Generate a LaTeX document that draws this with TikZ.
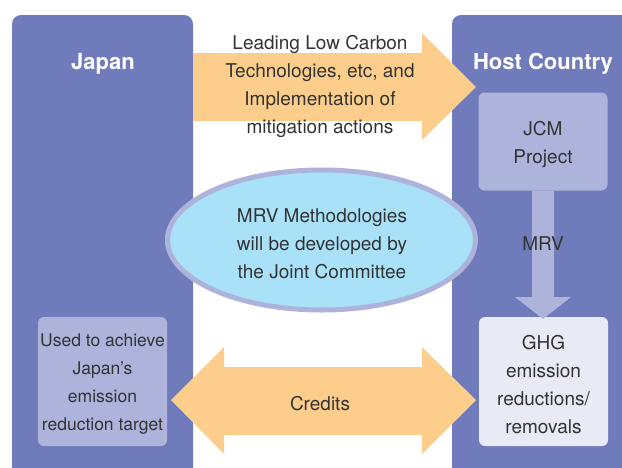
\documentclass[tikz,border=0pt]{standalone}
\usepackage{fontspec}
\setmainfont{TeX Gyre Heros}
\definecolor{panel}{HTML}{6F7BBB}
\definecolor{lightbox}{HTML}{ADB3DB}
\definecolor{palebox}{HTML}{E8EAF6}
\definecolor{orangefill}{HTML}{FDCD8C}
\definecolor{skyfill}{HTML}{A9E1F8}
\definecolor{txt}{HTML}{333333}
\begin{document}
\begin{tikzpicture}[x=1pt,y=-1pt,
  panelbox/.style={fill=panel,rounded corners=9pt},
  title/.style={text=white,font=\fontsize{22}{26}\selectfont\bfseries},
  body/.style={text=txt,font=\fontsize{19}{28}\selectfont,align=center},
  innerbox/.style={rounded corners=6pt,minimum width=129pt,minimum height=98pt,inner sep=0pt,draw=none},
  fatarrow/.style={fill=orangefill}]
\useasboundingbox (0,0) rectangle (622,467);
\fill[white] (0,0) rectangle (622,467);
% panels
\fill[panelbox] (12,15) rectangle (193,480);
\fill[panelbox] (452,15) rectangle (640,480);
\node[title] (japan) at (103,64) {Japan};
\node[title] (host) at (543,64) {Host Country};
% top arrow
\fill[fatarrow] (193,53) -- (422,53) -- (422,33) -- (476,87) -- (422,140) -- (422,121) -- (193,121) -- cycle;
\node[body] (tech) at (320,86) {Leading Low Carbon\\Technologies, etc, and\\Implementation of\\mitigation actions};
% JCM box
\node[innerbox,fill=lightbox] (jcm) at (543,141.5) {};
\node[body] (jcmtxt) at (543,144) {JCM\\Project};
% GHG box
\node[innerbox,fill=palebox,minimum height=129pt] (ghg) at (543.5,381.5) {};
\node[body] (ghgtxt) at (543.5,384.5) {GHG\\emission\\reductions/\\removals};
% MRV arrow
\fill[lightbox] (jcm.south -| 532,0) -- (532,297) -- (515,297) -- (543,319) -- (571,297) -- (554,297) -- (jcm.south -| 554,0) -- cycle;
\node[body] (mrv) at (543,244) {MRV};
% left box
\node[innerbox,fill=lightbox,minimum height=129pt] (used) at (102.5,381.5) {};
\node[body,font=\fontsize{17.5}{28}\selectfont] (usedtxt) at (102.5,384.5) {Used to achieve\\Japan’s\\emission\\reduction target};
% credits double arrow
\fill[fatarrow] (171,400) -- (224,347) -- (224,367) -- (422,367) -- (422,347) -- (476,400) -- (422,454) -- (422,435) -- (224,435) -- (224,454) -- cycle;
\node[body] (credits) at (320,404) {Credits};
% ellipse
\draw[line width=5pt,draw=lightbox,fill=skyfill] (321.5,240) ellipse [x radius=154pt,y radius=70pt];
\node[body] (mrvm) at (322,243.5) {MRV Methodologies\\will be developed by\\the Joint Committee};
\end{tikzpicture}
\end{document}
